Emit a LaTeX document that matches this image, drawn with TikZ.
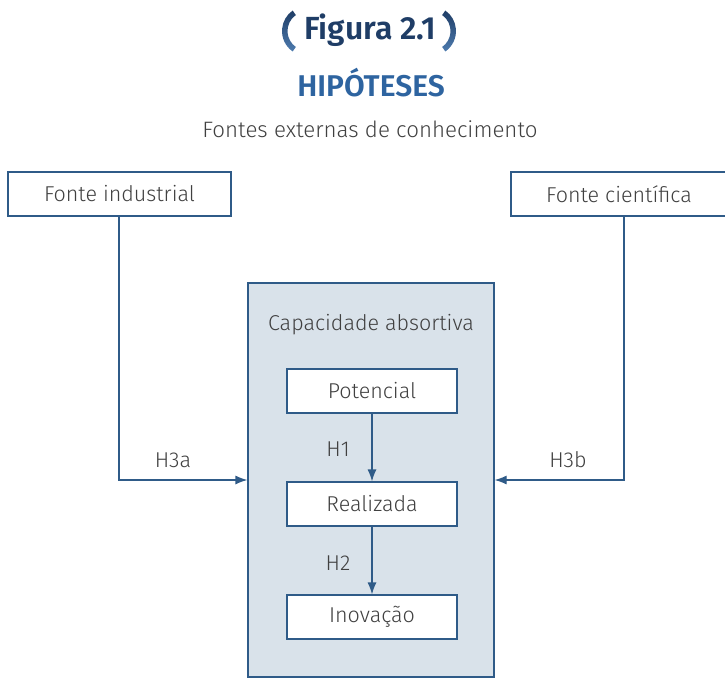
\documentclass[tikz,border=0pt]{standalone}
\usepackage{fontspec}
\setmainfont{Fira Sans Light}[BoldFont=Fira Sans SemiBold]
\usetikzlibrary{arrows.meta}
\definecolor{frame}{HTML}{2F5B88}
\definecolor{navy}{HTML}{1F3D66}
\definecolor{titleblue}{HTML}{2E64A0}
\definecolor{txt}{HTML}{404040}
\definecolor{panel}{HTML}{D9E2EA}
\begin{document}
\begin{tikzpicture}[x=1pt,y=-1pt,
  box/.style={draw=frame, line width=1.2pt, fill=white, minimum height=44pt, inner sep=0pt, text=txt, font=\fontsize{21.5}{24}\selectfont},
  inbox/.style={box, minimum width=170pt},
  lbl/.style={text=txt, font=\fontsize{21.5}{24}\selectfont, inner sep=0pt},
  conn/.style={draw=frame, line width=1.2pt, -{Latex[length=12pt,width=9pt]}},
  paren/.style={top color=navy, bottom color=titleblue!85!white},
  ]
\useasboundingbox (0,0) rectangle (725,678);
% title
\node[text=navy, font=\fontsize{32}{36}\bfseries] (fig) at (370,30) {Figura 2.1};
\shade[paren]
  ([shift={(307,31)}]125:25) arc[start angle=125, end angle=235, radius=25]
  -- ([shift={(307,31)}]235:19.5) arc[start angle=235, end angle=125, radius=19.5] -- cycle;
\shade[paren]
  ([shift={(431,31)}]55:25) arc[start angle=55, end angle=-55, radius=25]
  -- ([shift={(431,31)}]-55:19.5) arc[start angle=-55, end angle=55, radius=19.5] -- cycle;
\node[text=titleblue, font=\fontsize{30}{34}\bfseries] (hip) at (371,83) {HIPÓTESES};
\node[lbl, font=\fontsize{22.3}{25}\selectfont] (ext) at (370,129) {Fontes externas de conhecimento};
% sources
\node[box, minimum width=223pt] (ind) at (119.5,194) {Fonte industrial};
\node[box, minimum width=216pt] (cie) at (619,194) {Fonte científica};
% panel
\node[draw=frame, line width=1.2pt, fill=panel, minimum width=246pt, minimum height=394pt, inner sep=0pt] (cap) at (371,480) {};
\node[lbl] (captxt) at (371,325) {Capacidade absortiva};
\node[inbox] (pot) at (372,391) {Potencial};
\node[inbox] (rea) at (372,504) {Realizada};
\node[inbox] (ino) at (372,617) {Inovação};
\draw[conn] (pot) -- (rea) node[lbl, midway, xshift=-34pt, yshift=-2pt] (h1) {H1};
\draw[conn] (rea) -- (ino) node[lbl, midway, xshift=-34pt, yshift=-3pt] (h2) {H2};
\coordinate (lc) at (119,480);
\coordinate (rc) at (624,480);
\draw[conn] (ind.south -| lc) -- (lc) -- (cap.west |- lc);
\draw[conn] (cie.south -| rc) -- (rc) -- (cap.east |- rc);
\node[lbl] (h3a) at (173,460) {H3a};
\node[lbl] (h3b) at (568,460) {H3b};
\end{tikzpicture}
\end{document}
